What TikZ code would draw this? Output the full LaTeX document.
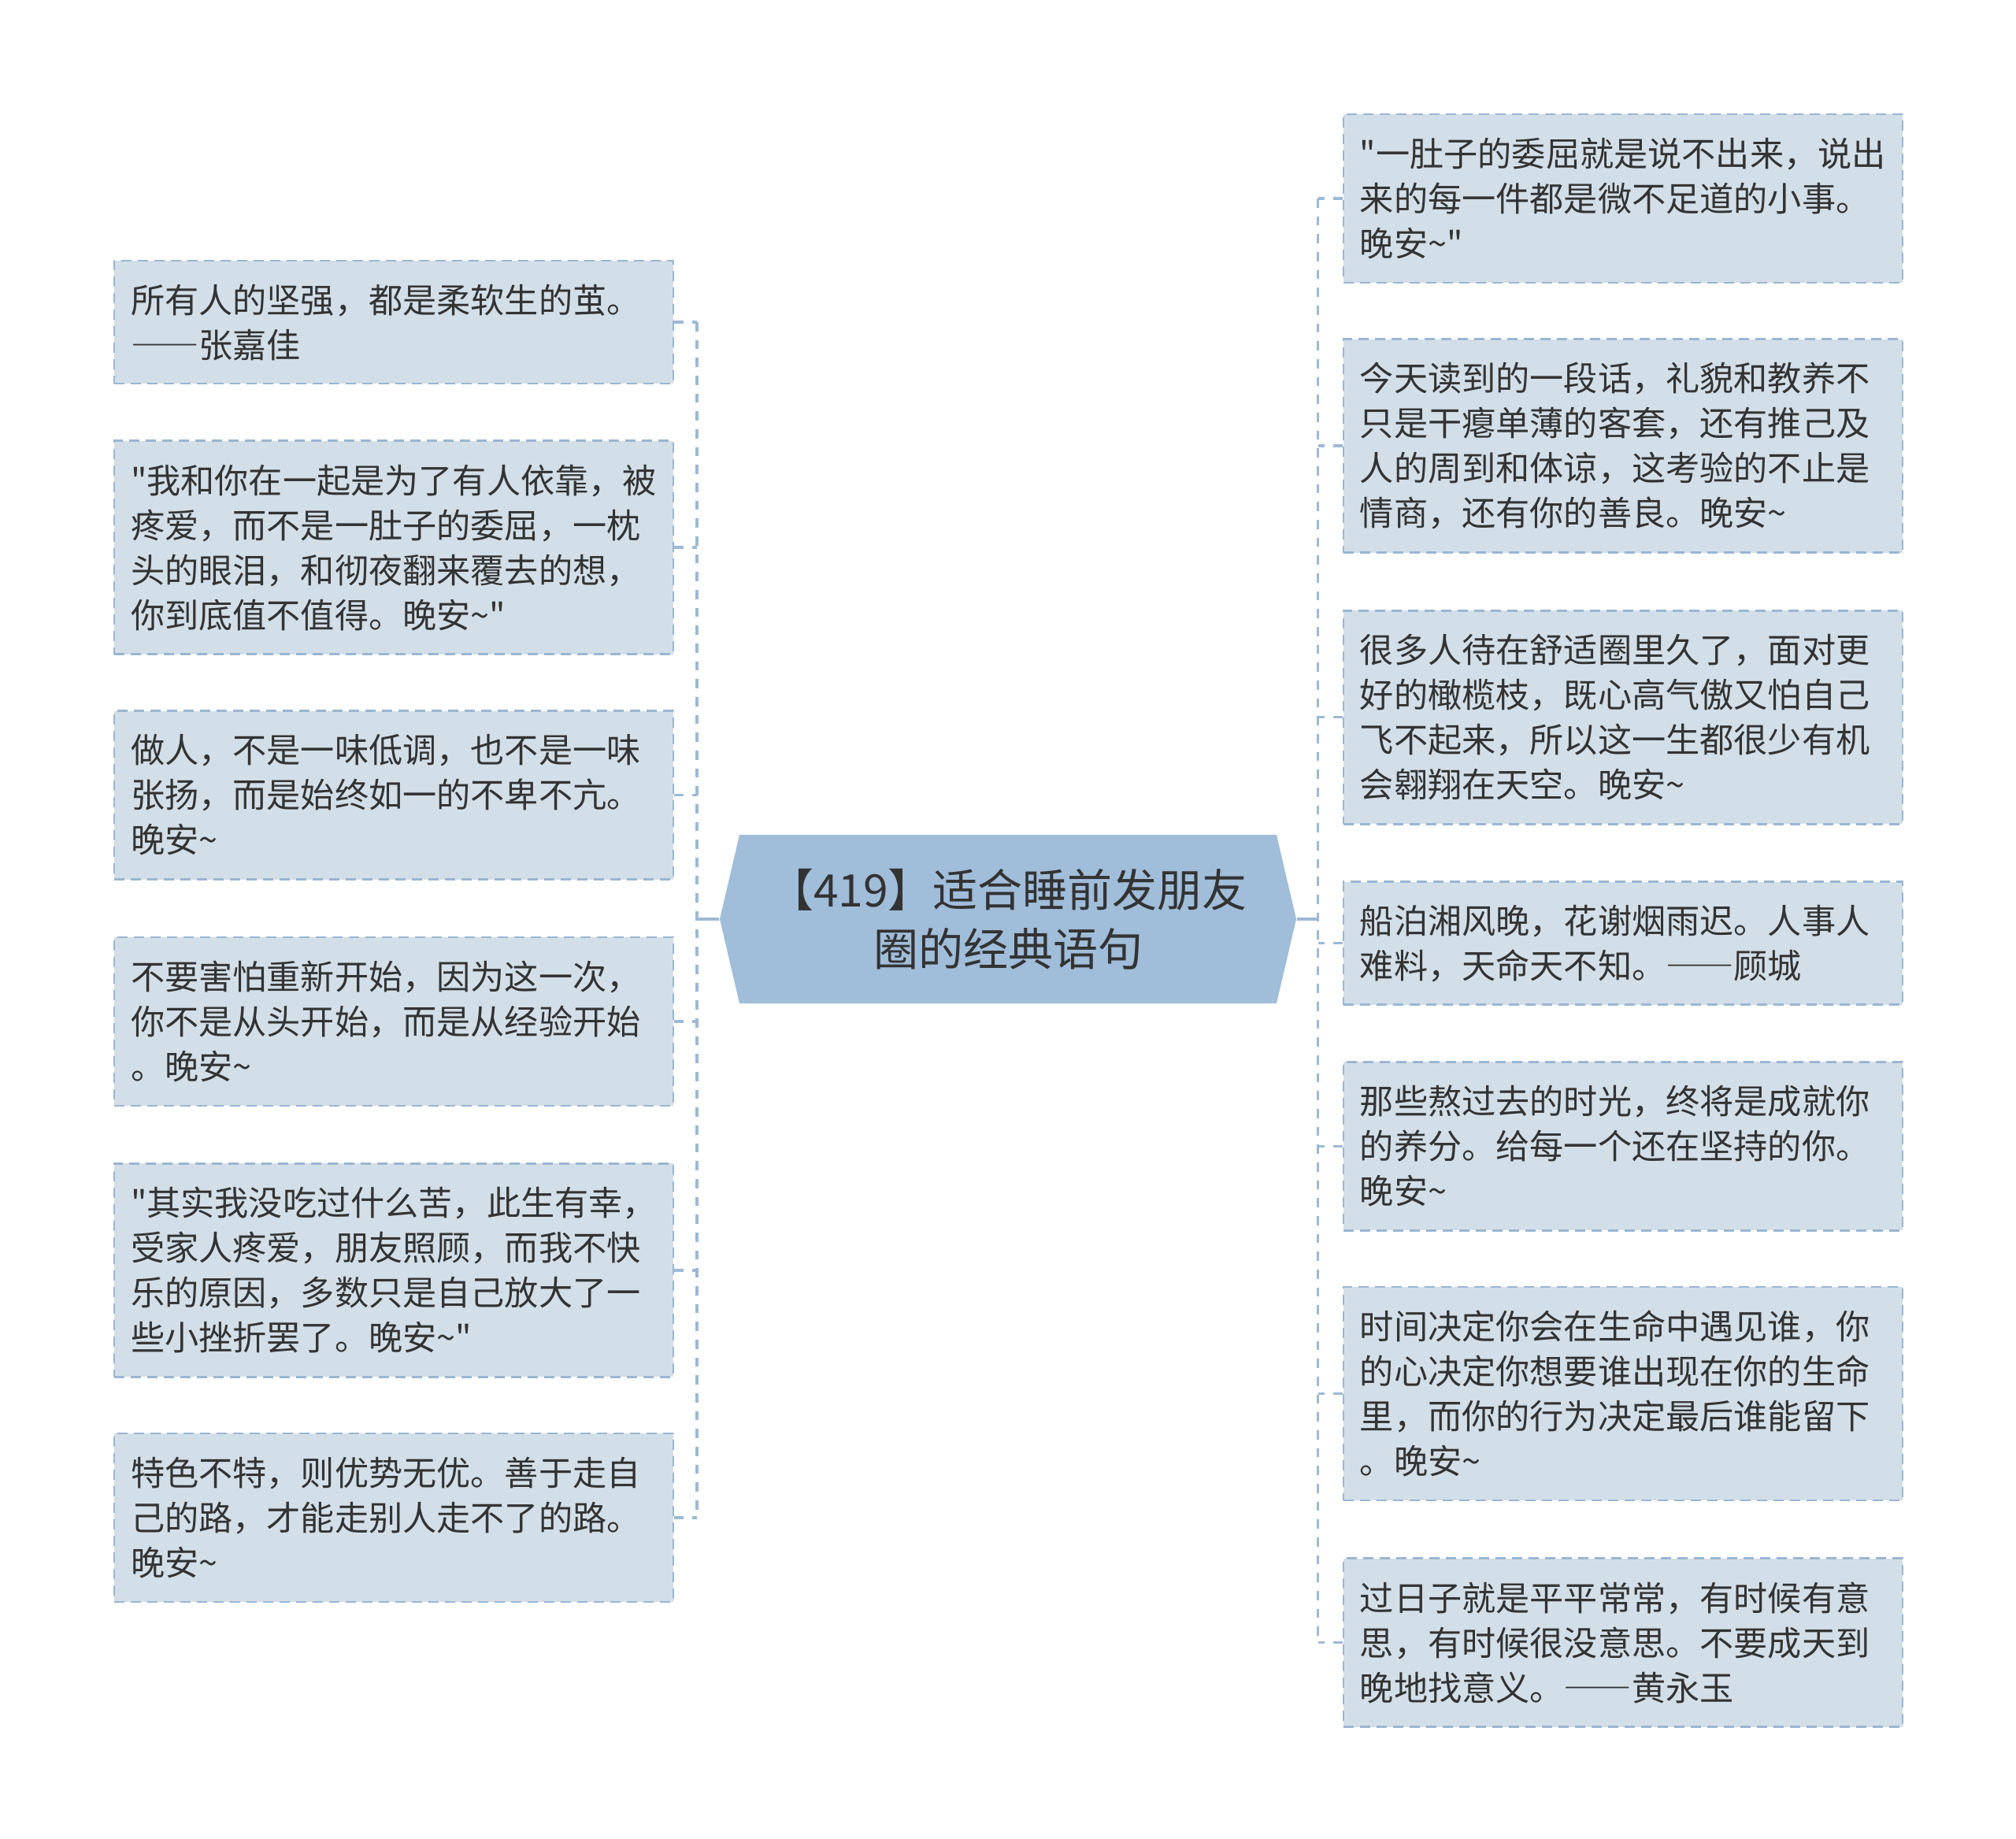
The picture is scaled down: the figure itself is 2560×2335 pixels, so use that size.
\documentclass[tikz,border=0pt]{standalone}
\usepackage{fontspec}
\setmainfont{Noto Sans CJK SC}[Ligatures=TeXOff]
\newcommand{\ddash}{{\addfontfeature{CharacterWidth=Full}——}}
\definecolor{boxfill}{HTML}{D3DFE8}
\definecolor{boxline}{HTML}{9AB6D2}
\definecolor{connline}{HTML}{9DB9D5}
\definecolor{mainfill}{HTML}{A0BDDA}
\definecolor{txt}{HTML}{333333}
\tikzset{
  qbox/.style={rectangle, draw=boxline, fill=boxfill, line width=0.8pt,
    dash pattern=on 3.9pt off 2.4pt, anchor=north west,
    inner xsep=6.3pt, inner ysep=0pt, text width=200.4pt, align=left,
    text=txt, font=\fontsize{12.95pt}{17.1pt}\selectfont},
  hii/.style={minimum height=46.8pt},
  hiii/.style={minimum height=64.2pt},
  hiv/.style={minimum height=81.3pt},
  conn/.style={draw=connline, line width=1.05pt, dash pattern=on 3.5pt off 3.3pt},
  connsolid/.style={draw=connline, line width=1.05pt},
  mainbox/.style={rectangle, minimum width=219.6pt, minimum height=64.2pt,
    inner sep=0pt, align=center, text=txt,
    font=\fontsize{17.1pt}{22.5pt}\selectfont}
}
\begin{document}
\begin{tikzpicture}[x=0.3pt, y=-0.3pt]
\path[use as bounding box] (0,0) rectangle (2560,2335);
% central node
\fill[mainfill] (914,1167) -- (939,1060) -- (1621,1060) -- (1646,1167) -- (1621,1274) -- (939,1274) -- cycle;
\node[mainbox] (c) at (1280,1167) {【419】适合睡前发朋友\\圈的经典语句};
% left boxes
\node[qbox,hii] (L1) at (143.7,329.8) {所有人的坚强，都是柔软生的茧。\\\ddash 张嘉佳};
\node[qbox,hiv] (L2) at (143.7,558.4) {"我和你在一起是为了有人依靠，被\\疼爱，而不是一肚子的委屈，一枕\\头的眼泪，和彻夜翻来覆去的想，\\你到底值不值得。晚安\textasciitilde"};
\node[qbox,hiii] (L3) at (143.7,901.2) {做人，不是一味低调，也不是一味\\张扬，而是始终如一的不卑不亢。\\晚安\textasciitilde};
\node[qbox,hiii] (L4) at (143.7,1188.6) {不要害怕重新开始，因为这一次，\\你不是从头开始，而是从经验开始\\。晚安\textasciitilde};
\node[qbox,hiv] (L5) at (143.7,1476) {"其实我没吃过什么苦，此生有幸，\\受家人疼爱，朋友照顾，而我不快\\乐的原因，多数只是自己放大了一\\些小挫折罢了。晚安\textasciitilde"};
\node[qbox,hiii] (L6) at (143.7,1818.8) {特色不特，则优势无优。善于走自\\己的路，才能走别人走不了的路。\\晚安\textasciitilde};
% right boxes
\node[qbox,hiii] (R1) at (1704.5,143.7) {"一肚子的委屈就是说不出来，说出\\来的每一件都是微不足道的小事。\\晚安\textasciitilde"};
\node[qbox,hiv] (R2) at (1704.5,429.4) {今天读到的一段话，礼貌和教养不\\只是干瘪单薄的客套，还有推己及\\人的周到和体谅，这考验的不止是\\情商，还有你的善良。晚安\textasciitilde};
\node[qbox,hiv] (R3) at (1704.5,773.9) {很多人待在舒适圈里久了，面对更\\好的橄榄枝，既心高气傲又怕自己\\飞不起来，所以这一生都很少有机\\会翱翔在天空。晚安\textasciitilde};
\node[qbox,hii] (R4) at (1704.5,1118.4) {船泊湘风晚，花谢烟雨迟。人事人\\难料，天命天不知。\ddash 顾城};
\node[qbox,hiii] (R5) at (1704.5,1347) {那些熬过去的时光，终将是成就你\\的养分。给每一个还在坚持的你。\\晚安\textasciitilde};
\node[qbox,hiv] (R6) at (1704.5,1632.7) {时间决定你会在生命中遇见谁，你\\的心决定你想要谁出现在你的生命\\里，而你的行为决定最后谁能留下\\。晚安\textasciitilde};
\node[qbox,hiii] (R7) at (1704.5,1977.2) {过日子就是平平常常，有时候有意\\思，有时候很没意思。不要成天到\\晚地找意义。\ddash 黄永玉};
% junction coordinates
\coordinate (lj) at (885,1167);
\coordinate (rj) at (1673.5,1167);
% left connectors
\draw[connsolid] (c.west) -- (lj);
\draw[conn] (L1.east -| lj) -- (L6.east -| lj);
\foreach \n in {L1,L2,L3,L4,L5,L6} {
  \draw[conn] (\n.east) -- (\n.east -| lj);
}
% right connectors
\draw[connsolid] (c.east) -- (rj);
\draw[conn] (R1.west -| rj) -- (R7.west -| rj);
\foreach \n in {R1,R2,R3,R4,R5,R6,R7} {
  \draw[conn] (\n.west) -- (\n.west -| rj);
}
\end{tikzpicture}
\end{document}
